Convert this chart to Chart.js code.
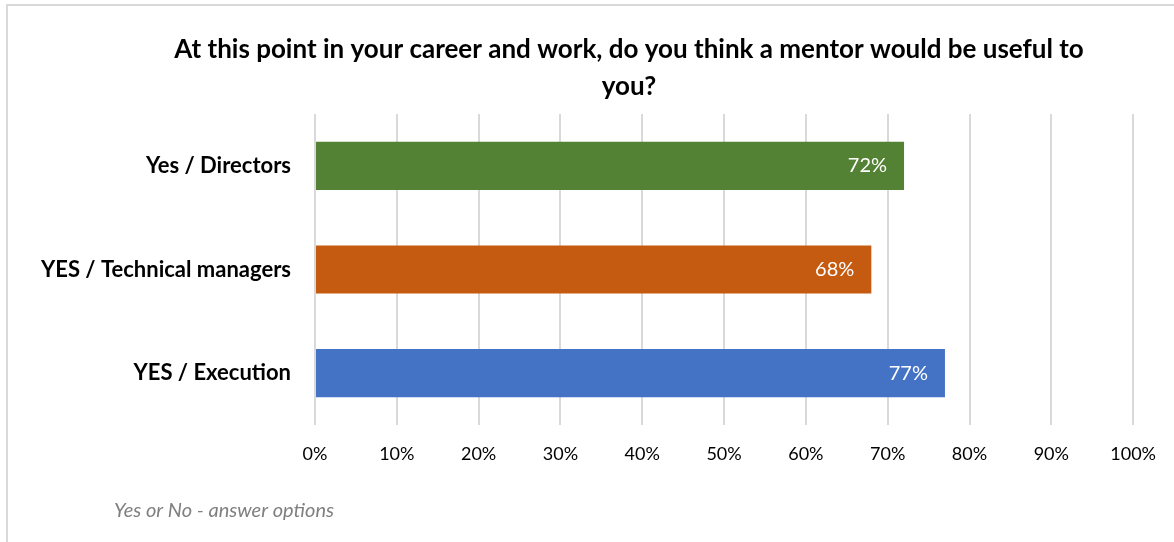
<!DOCTYPE html>
<html>
<head>
<meta charset="utf-8">
<script src="https://cdn.jsdelivr.net/npm/chart.js@4.4.1/dist/chart.umd.min.js"></script>
<style>
  html, body { margin: 0; padding: 0; background: #fff; }
  #wrap { position: relative; width: 1174px; height: 542px; }
  #frame { position: absolute; left: 6px; top: 4px; right: -10px; bottom: -10px;
           border-left: 2px solid #d9d9d9; border-top: 2px solid #d9d9d9; }
  canvas { position: absolute; left: 0; top: 0; }
</style>
</head>
<body>
<div id="wrap">
  <div id="frame"></div>
  <canvas id="chart" width="1174" height="542"></canvas>
</div>
<script>
const categories = ["Yes / Directors", "YES / Technical managers", "YES / Execution"];
const shares = [72, 68, 77];
const barColors = ["#548235", "#C55A11", "#4472C4"];
const tickValues = [0, 10, 20, 30, 40, 50, 60, 70, 80, 90, 100];
const titleLines = ["At this point in your career and work, do you think a mentor would be useful to", "you?"];
const footnote = "Yes or No - answer options";

const FONT = "Lato, 'Open Sans', sans-serif";

// title, footnote and the value labels inside each bar
const textPlugin = {
  id: "texts",
  afterDraw(chart) {
    const ctx = chart.ctx;
    ctx.save();
    ctx.fillStyle = "#000";
    ctx.font = "bold 26px " + FONT;
    ctx.textAlign = "center";
    ctx.textBaseline = "middle";
    ctx.fillText(titleLines[0], 629, 50);
    ctx.fillText(titleLines[1], 629, 87);

    ctx.fillStyle = "#7f7f7f";
    ctx.font = "italic 20px " + FONT;
    ctx.textAlign = "left";
    ctx.fillText(footnote, 114, 511);

    const meta = chart.getDatasetMeta(0);
    ctx.fillStyle = "#fff";
    ctx.font = "20px " + FONT;
    ctx.textAlign = "right";
    meta.data.forEach((bar, i) => {
      ctx.fillText(shares[i] + "%", bar.x - 17, bar.y);
    });
    ctx.restore();
  }
};

new Chart(document.getElementById("chart").getContext("2d"), {
  type: "bar",
  data: {
    labels: categories,
    datasets: [{
      data: shares,
      backgroundColor: barColors,
      borderWidth: 0,
      categoryPercentage: 1,
      barPercentage: 0.465
    }]
  },
  options: {
    indexAxis: "y",
    responsive: false,
    animation: false,
    layout: { padding: { top: 114, right: 38, bottom: 77, left: 0 } },
    plugins: {
      legend: { display: false },
      tooltip: { enabled: false }
    },
    scales: {
      x: {
        min: 0,
        max: 100,
        afterBuildTicks(axis) { axis.ticks = tickValues.map(v => ({ value: v })); },
        afterFit(axis) { axis.height = 40; },
        grid: { color: "#d9d9d9", lineWidth: 2, drawTicks: false },
        border: { display: false },
        ticks: {
          padding: 18,
          color: "#000",
          font: { family: FONT, size: 18 },
          callback: v => v + "%"
        }
      },
      y: {
        afterFit(axis) { axis.width = 315; },
        grid: { display: false, drawTicks: false },
        border: { display: false },
        ticks: {
          padding: 24,
          color: "#000",
          font: { family: FONT, size: 22, weight: "bold" }
        }
      }
    }
  },
  plugins: [textPlugin]
});
</script>
</body>
</html>
